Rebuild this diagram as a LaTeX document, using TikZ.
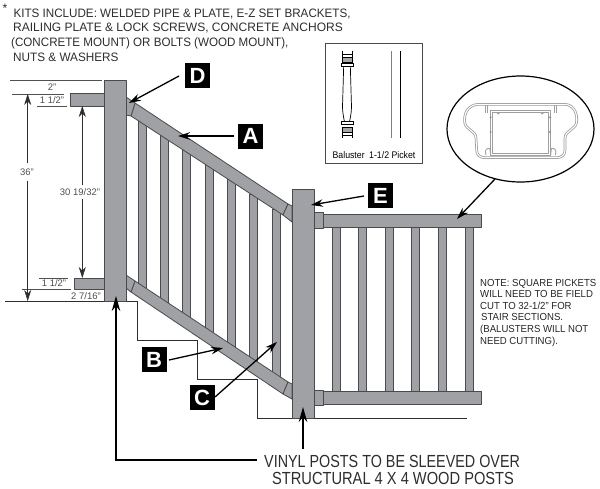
\documentclass[tikz,border=0pt]{standalone}
\usepackage{fontspec}
\usepackage{graphicx}
\setmainfont{Liberation Sans}
\usetikzlibrary{arrows.meta}
\definecolor{railgray}{HTML}{A0A1A4}
\definecolor{edgegray}{HTML}{4A4A4C}
\definecolor{inkgray}{HTML}{2E2E30}
\definecolor{dimgray}{HTML}{505052}
\newcommand{\sqz}[2]{\scalebox{#1}[1]{#2}}
\tikzset{
  part/.style={fill=railgray,draw=edgegray,line width=0.8pt,line join=round},
  dimline/.style={draw=dimgray,line width=0.6pt},
  dimarrow/.style={draw=inkgray,line width=0.6pt,-{Stealth[length=11pt,width=7pt]}},
  callout/.style={draw=black,line width=1.3pt,-{Stealth[length=12pt,width=7.5pt]}},
  bigarrow/.style={draw=black,line width=1.8pt,-{Stealth[length=15pt,width=8.5pt]}},
  tag/.style={fill=black,text=white,minimum size=25pt,inner sep=0pt,font=\fontsize{22}{22}\selectfont\bfseries},
  kit/.style={anchor=base west,inner sep=0pt,text=inkgray,font=\fontsize{12.2}{12}\selectfont},
  vinyl/.style={anchor=base west,inner sep=0pt,text=inkgray,font=\fontsize{17.5}{18}\selectfont},
  notetxt/.style={anchor=base west,inner sep=0pt,text=black!85,font=\fontsize{10.2}{11}\selectfont},
  dimtxt/.style={inner sep=0pt,text=dimgray,font=\fontsize{9.5}{10}\selectfont},
  profile/.style={draw=gray!75,line width=0.9pt,line join=round},
}
\begin{document}
\begin{tikzpicture}[x=1pt,y=-1pt]
\useasboundingbox (0,0) rectangle (600,488);
\fill[white] (0,0) rectangle (600,488);
% stairs / floor line
\draw[dimline,draw=inkgray] (5,301) -- (137,301) -- (137,340) -- (197,340) -- (197,379) -- (257,379) -- (257,418) -- (292,418);
\draw[dimline,draw=inkgray] (314,418) -- (467,418);
% left pickets
\foreach \xa in {138,160,182,205,227,249,272}{
  \pgfmathsetmacro{\ya}{116+(\xa+4-131)*0.6633-3}
  \pgfmathsetmacro{\yb}{281+(\xa+4-135)*0.6633+3}
  \path[part] (\xa,\ya) rectangle (\xa+8,\yb);
}
% right pickets
\foreach \xa in {332,358,385,411,438,465}{
  \path[part] (\xa,226) rectangle (\xa+8,392);
}
% sloped rails with end brackets
\path[part] (135,103) -- (288,204) -- (283,215) -- (131,116) -- cycle;
\path[part] (126,97) -- (135,103) -- (131,116) -- (126,115) -- cycle;
\path[part] (288,204) -- (292,206) -- (292,222) -- (283,215) -- cycle;
\path[part] (135,281) -- (288,382) -- (283,394) -- (131,292) -- cycle;
\path[part] (126,275) -- (135,281) -- (131,292) -- (126,288) -- cycle;
\path[part] (288,382) -- (292,384) -- (292,399) -- (283,394) -- cycle;
% level rails
\path[part] (322,214) rectangle (481,227);
\path[part] (314,212) rectangle (323,228);
\path[part] (322,391) rectangle (481,404);
\path[part] (314,390) rectangle (323,405);
% stubs
\path[part] (70,93) rectangle (104,106);
\path[part] (74,278) rectangle (104,289);
% posts
\path[part] (104,80) rectangle (126,301);
\path[part] (292,189) rectangle (314,418);
% dimensions
\draw[dimline] (10,80) -- (102,80);
\draw[dimline] (12,94) -- (64,94);
\draw[dimline] (37,106) -- (67,106);
\draw[dimline] (39,278) -- (68,278);
\draw[dimline] (22,289) -- (71,289);
\node[dimtxt] (d2) at (52,87) {2"};
\node[dimtxt] (d15a) at (52,100) {1 1/2"};
\node[dimtxt] (d36) at (27,172) {36"};
\node[dimtxt] (d30) at (80,192) {30 19/32"};
\node[dimtxt] (d15b) at (54,283) {1 1/2"};
\node[dimtxt] (d27) at (86,296) {2 7/16"};
\coordinate (t36a) at (27.7,94);
\coordinate (t36b) at (27.7,301);
\coordinate (t30a) at (82.3,106);
\coordinate (t30b) at (82.3,278);
\draw[dimarrow] (d36.north -| t36a) ++(0,-5) -- (t36a);
\draw[dimarrow] (d36.south -| t36b) ++(0,5) -- (t36b);
\draw[dimarrow] (d30.north -| t30a) ++(0,-3) -- (t30a);
\draw[dimarrow] (d30.south -| t30b) ++(0,3) -- (t30b);
% text
\node[kit,anchor=center] (star) at (5,8) {*};
\node[kit] (k1) at (13.3,17) {\sqz{.955}{KITS INCLUDE: WELDED PIPE \& PLATE, E-Z SET BRACKETS,}};
\node[kit] (k2) at (13,31) {\sqz{.985}{RAILING PLATE \& LOCK SCREWS, CONCRETE ANCHORS}};
\node[kit] (k3) at (11,46) {\sqz{.952}{(CONCRETE MOUNT) OR BOLTS (WOOD MOUNT),}};
\node[kit] (k4) at (13,61) {\sqz{.963}{NUTS \& WASHERS}};
\node[vinyl] (v1) at (264,467) {\sqz{.82}{VINYL POSTS TO BE SLEEVED OVER}};
\node[vinyl] (v2) at (272,484) {\sqz{.837}{STRUCTURAL 4 X 4 WOOD POSTS}};
\node[notetxt] (n1) at (480,286) {\sqz{.94}{NOTE: SQUARE PICKETS}};
\node[notetxt] (n2) at (480,297.7) {\sqz{.94}{WILL NEED TO BE FIELD}};
\node[notetxt] (n3) at (480,309) {\sqz{.94}{CUT TO 32-1/2" FOR}};
\node[notetxt] (n4) at (481,320.7) {\sqz{.94}{STAIR SECTIONS.}};
\node[notetxt] (n5) at (480,332) {\sqz{.94}{(BALUSTERS WILL NOT}};
\node[notetxt] (n6) at (480,344) {\sqz{.94}{NEED CUTTING).}};
% tags
\node[tag] (D) at (197.5,75.5) {D};
\node[tag] (A) at (250.5,136) {A};
\node[tag] (E) at (380.5,195.5) {E};
\node[tag] (B) at (154,359.5) {B};
\node[tag] (C) at (202,397.5) {C};
% inset
\node[draw=edgegray,line width=1.6pt,fill=white,minimum width=97pt,minimum height=120pt,inner sep=0pt] (inset) at (374,103.5) {};
\node[anchor=base,inner sep=0pt,text=black,font=\fontsize{9.6}{10}\selectfont] (inl) at (374,158) {\sqz{.91}{Baluster\hspace{5pt}1-1/2 Picket}};
\draw[gray,line width=1pt] (391,51) -- (391,138);
\draw[black,line width=1pt] (400.7,51) -- (400.7,138);
\begin{scope}[shift={(320,40)},scale=0.3333,line width=0.7pt,draw=black]
  \fill[gray!70] (67,52) rectangle (95,68);
  \fill[gray!70] (67,262) rectangle (95,276);
  \draw (66,32) -- (66,52) (97,32) -- (97,52) (66,276) -- (66,295) (97,276) -- (97,295);
  \draw (66,42) -- (97,42) (66,286) -- (97,286);
  \draw (66,52) rectangle (97,68);
  \draw (64,70) rectangle (99,79);
  \draw (64,243) rectangle (99,253);
  \draw (66,262) rectangle (97,276);
  \draw (71,79) -- (68,185) .. controls (66,210) and (70,228) .. (73,243);
  \draw (91,79) -- (94,185) .. controls (96,210) and (92,228) .. (89,243);
\end{scope}
% profile oval
\draw[black,line width=1.2pt,fill=white] (520.5,129) ellipse [x radius=73.5, y radius=53];
\coordinate (ovalfoot) at (495,179);
\begin{scope}[shift={(450,70)},scale=0.3333]
  \draw[profile,line width=2.6pt,draw=gray!80] (85,103) -- (345,103) .. controls (375,105) and (382,135) .. (380,155) .. controls (378,180) and (345,180) .. (345,205) -- (345,240) .. controls (345,255) and (335,263) .. (320,263) -- (105,263) .. controls (90,263) and (80,255) .. (80,240) -- (78,205) .. controls (78,180) and (44,180) .. (44,155) .. controls (42,135) and (50,105) .. (85,103);
  \draw[white,line width=1.1pt] (85,103) -- (345,103) .. controls (375,105) and (382,135) .. (380,155) .. controls (378,180) and (345,180) .. (345,205) -- (345,240) .. controls (345,255) and (335,263) .. (320,263) -- (105,263) .. controls (90,263) and (80,255) .. (80,240) -- (78,205) .. controls (78,180) and (44,180) .. (44,155) .. controls (42,135) and (50,105) .. (85,103);
  \draw[profile] (122,134) -- (122,120) -- (300,120) -- (300,255) -- (122,255) -- cycle;
  \draw[profile] (128,134) -- (128,127) -- (294,127) -- (294,250) -- (128,250) -- cycle;
  \draw[profile] (105,105) -- (105,128) (111,105) -- (111,128);
  \draw[profile] (312,105) -- (312,128) (318,105) -- (318,128);
  \draw[profile] (140,127) arc[start angle=180,end angle=0,radius=5];
  \draw[profile] (272,127) arc[start angle=180,end angle=0,radius=5];
  \draw[profile] (108,255) .. controls (102,240) and (112,232) .. (120,236) -- (122,255);
  \draw[profile] (302,255) -- (304,236) .. controls (312,232) and (322,240) .. (316,255);
  \fill[gray] (122,142) circle (3) (122,186) circle (3) (300,142) circle (3) (300,186) circle (3);
\end{scope}
% callouts
\coordinate (Dtip) at (129,103);
\coordinate (Atip) at (178,136);
\coordinate (Etip) at (311,205);
\coordinate (Btip) at (223,348);
\coordinate (Ctip) at (277,342);
\coordinate (Ptip) at (457,219);
\coordinate (Vfoot) at (116,296);
\coordinate (Etipb) at (303,407);
\coordinate (Ebase) at (303,449);
\coordinate (Vstart) at (257,460);
\draw[callout] (179,76) -- (Dtip);
\draw[callout] (A.west) ++(-3.5,0) -- (Atip);
\draw[callout] (364,196) -- (Etip);
\draw[callout] (ovalfoot) -- (Ptip);
\draw[callout] (169,360) -- (Btip);
\draw[callout] (215,397) -- (Ctip);
\draw[bigarrow] (Vstart) -- (116,460) -- (Vfoot);
\draw[bigarrow] (Ebase) -- (Etipb);
\end{tikzpicture}
\end{document}
